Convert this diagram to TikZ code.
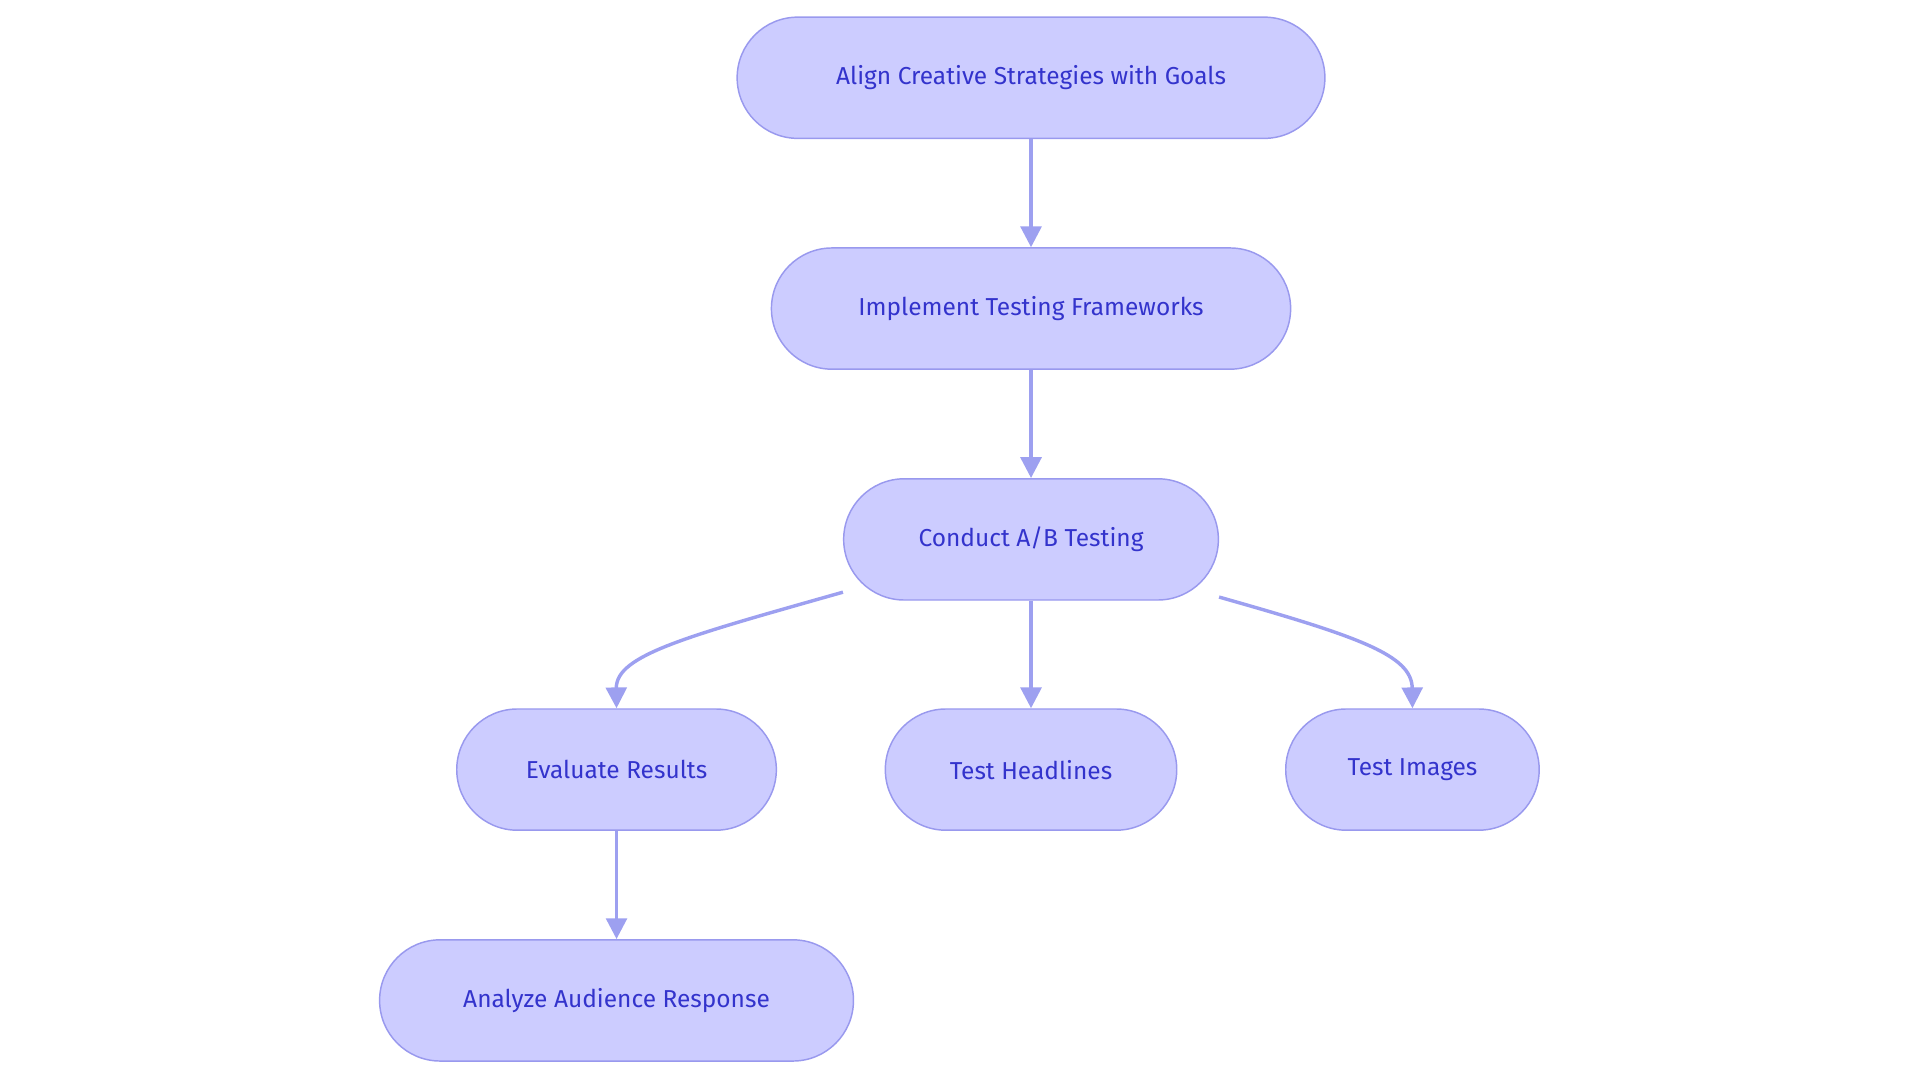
\documentclass[tikz,border=0pt]{standalone}
\usepackage{fontspec}
\setmainfont{Fira Sans}
\usetikzlibrary{arrows.meta,calc}
\definecolor{nfill}{HTML}{CCCCFF}
\definecolor{nline}{HTML}{9999EE}
\definecolor{ntext}{HTML}{3333CC}
\definecolor{aline}{HTML}{9DA0F0}
\begin{document}
\begin{tikzpicture}[x=1pt,y=-1pt,
  box/.style={draw=nline,fill=nfill,line width=1.2pt,rounded corners=49.5pt,minimum height=99pt,inner xsep=0pt,text=ntext,font=\fontsize{20}{24}\selectfont},
  arr/.style={draw=aline,line width=2.8pt,-{Triangle[length=17pt,width=17pt]}}]
\useasboundingbox (0,0) rectangle (1568,884);
\node[box,minimum width=480pt] (a) at (842,63.5) {Align Creative Strategies with Goals};
\node[box,minimum width=424pt] (i) at (842,252) {Implement Testing Frameworks};
\node[box,minimum width=306pt] (c) at (842,440.5) {Conduct A/B Testing};
\node[box,minimum width=261pt] (e) at (503.5,628.5) {Evaluate Results};
\node[box,minimum width=238pt] (h) at (842,628.5) {Test Headlines};
\node[box,minimum width=207pt] (t) at (1153.5,628.5) {Test Images};
\node[box,minimum width=387pt] (z) at (503.5,817) {Analyze Audience Response};
\draw[arr] (a) -- (i);
\draw[arr] (i) -- (c);
\draw[arr] (c) -- (h);
\draw[arr] (e) -- (z);
\draw[arr] ($(c.south west)+(0,-7)$) .. controls (560,520) and (503,535) .. (e.north);
\draw[arr] ($(c.south east)+(0,-3)$) .. controls (1110,520) and (1153,535) .. (t.north);
\end{tikzpicture}
\end{document}
